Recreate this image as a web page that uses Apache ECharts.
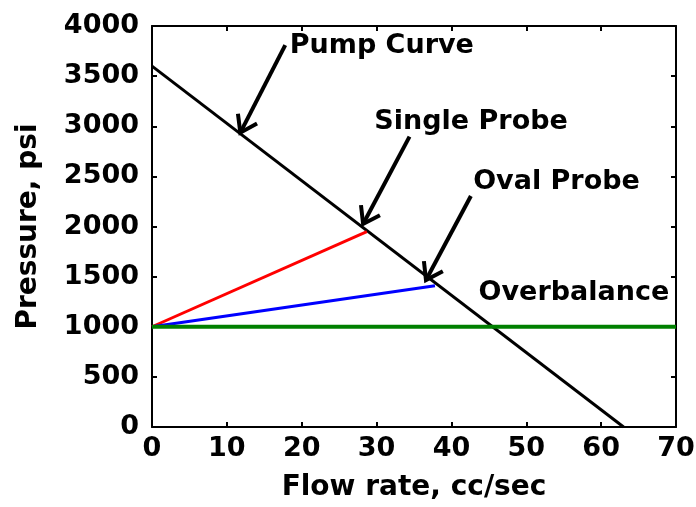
<!DOCTYPE html>
<html>
<head>
<meta charset="utf-8">
<script src="https://cdn.jsdelivr.net/npm/echarts@6/dist/echarts.min.js"></script>
<style>
  html, body { margin: 0; padding: 0; background: #fff; }
  #chart { width: 696px; height: 507px; }
</style>
</head>
<body>
<div id="chart"></div>
<script>
// Flow rate (cc/sec) vs pressure (psi): pump curve against probe operating lines
const pumpCurve = [[0, 3600], [63, 0]];
const singleProbe = [[0, 1000], [28.7, 1950]];
const ovalProbe = [[0, 1000], [37.8, 1410]];
const overbalance = [[0, 1000], [70, 1000]];

const xTicks = { min: 0, max: 70, interval: 10 };
const yTicks = { min: 0, max: 4000, interval: 500 };

// Callout arrows: [fromX, fromY, toX, toY] in axis units
const arrows = [
  [17.8, 3810, 11.8, 2936],
  [34.4, 2896, 28.2, 2025],
  [42.6, 2304, 36.6, 1466]
];
// Callout labels: [x, y, text, align]
const callouts = [
  [18.4, 3800, 'Pump Curve', 'left'],
  [29.7, 3045, 'Single Probe', 'left'],
  [42.9, 2449, 'Oval Probe', 'left'],
  [69.1, 1332, 'Overbalance', 'right']
];

const FONT = '"DejaVu Sans", sans-serif';
const chart = echarts.init(document.getElementById('chart'), null, { renderer: 'canvas' });

const boxAxisCommon = {
  axisLine: { show: true, onZero: false, lineStyle: { color: '#000', width: 2 } },
  axisTick: { show: true, inside: true, length: 5, lineStyle: { color: '#000', width: 2 } },
  splitLine: { show: false }
};

function plain(v) { return String(v); }

function lineSeries(data, color, width, z) {
  return {
    type: 'line', data: data, showSymbol: false, symbol: 'none', z: z,
    lineStyle: { color: color, width: width }, animation: false
  };
}

chart.setOption({
  animation: false,
  backgroundColor: '#fff',
  grid: { left: 152, top: 26, width: 524, height: 401, containLabel: false, outerBoundsMode: 'none' },
  xAxis: [
    Object.assign({
      type: 'value', position: 'bottom',
      min: xTicks.min, max: xTicks.max, interval: xTicks.interval,
      name: 'Flow rate, cc/sec', nameLocation: 'middle', nameGap: 47,
      nameTextStyle: { fontFamily: FONT, fontWeight: 'bold', fontSize: 28, color: '#000' },
      axisLabel: { fontFamily: FONT, fontWeight: 'bold', fontSize: 27, color: '#000', margin: 8, formatter: plain }
    }, boxAxisCommon),
    Object.assign({
      type: 'value', position: 'top',
      min: xTicks.min, max: xTicks.max, interval: xTicks.interval,
      axisLabel: { show: false }
    }, boxAxisCommon)
  ],
  yAxis: [
    Object.assign({
      type: 'value', position: 'left',
      min: yTicks.min, max: yTicks.max, interval: yTicks.interval,
      name: 'Pressure, psi', nameLocation: 'middle', nameGap: 109, nameRotate: 90,
      nameTextStyle: { fontFamily: FONT, fontWeight: 'bold', fontSize: 28, color: '#000' },
      axisLabel: { fontFamily: FONT, fontWeight: 'bold', fontSize: 27, color: '#000', margin: 13,
                   padding: [0, 0, 6, 0], formatter: plain }
    }, boxAxisCommon),
    Object.assign({
      type: 'value', position: 'right',
      min: yTicks.min, max: yTicks.max, interval: yTicks.interval,
      axisLabel: { show: false }
    }, boxAxisCommon)
  ],
  series: [
    lineSeries(pumpCurve, '#000000', 3, 2),
    lineSeries(singleProbe, '#ff0000', 3, 3),
    lineSeries(ovalProbe, '#0000ff', 3, 3),
    lineSeries(overbalance, '#008000', 4, 4),
    {
      type: 'custom', z: 10, clip: false, animation: false,
      data: arrows,
      renderItem: function (params, api) {
        const a = api.coord([api.value(0), api.value(1)]);
        const b = api.coord([api.value(2), api.value(3)]);
        const ang = Math.atan2(b[1] - a[1], b[0] - a[0]);
        const len = 19, spread = 0.6;
        const w1 = [b[0] - len * Math.cos(ang - spread), b[1] - len * Math.sin(ang - spread)];
        const w2 = [b[0] - len * Math.cos(ang + spread), b[1] - len * Math.sin(ang + spread)];
        const st = { stroke: '#000', lineWidth: 4, fill: null, lineJoin: 'miter', lineCap: 'butt' };
        return {
          type: 'group',
          children: [
            { type: 'line', shape: { x1: a[0], y1: a[1], x2: b[0], y2: b[1] }, style: st },
            { type: 'polyline', shape: { points: [w1, b, w2] }, style: st }
          ]
        };
      }
    },
    {
      type: 'custom', z: 11, clip: false, animation: false,
      data: callouts,
      renderItem: function (params, api) {
        const item = callouts[params.dataIndex];
        const p = api.coord([item[0], item[1]]);
        return {
          type: 'text',
          style: {
            x: p[0], y: p[1], text: item[2],
            fill: '#000', textAlign: item[3], textVerticalAlign: 'middle',
            font: 'bold 27px ' + FONT
          }
        };
      }
    }
  ]
});
</script>
</body>
</html>
